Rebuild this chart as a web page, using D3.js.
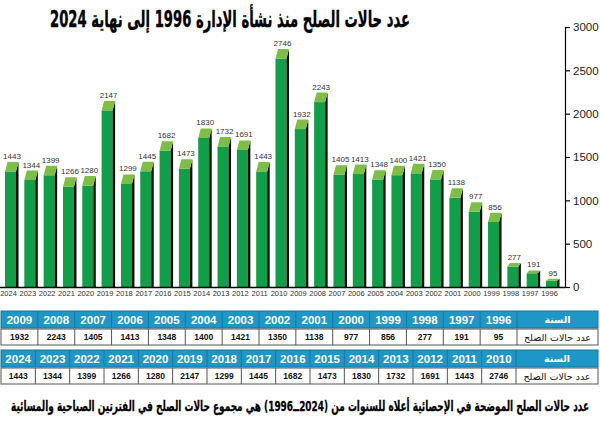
<!DOCTYPE html>
<html><head><meta charset="utf-8">
<script src="https://cdn.jsdelivr.net/npm/d3@7"></script>
<style>body{margin:0;background:#fff}svg{display:block}</style>
</head><body>
<script>
const years = [2024,2023,2022,2021,2020,2019,2018,2017,2016,2015,2014,2013,2012,2011,2010,2009,2008,2007,2006,2005,2004,2003,2002,2001,2000,1999,1998,1997,1996];
const values = [1443,1344,1399,1266,1280,2147,1299,1445,1682,1473,1830,1732,1691,1443,2746,1932,2243,1405,1413,1348,1400,1421,1350,1138,977,856,277,191,95];
const yTicks = [0,500,1000,1500,2000,2500,3000];
const table1Years = [2009,2008,2007,2006,2005,2004,2003,2002,2001,2000,1999,1998,1997,1996];
const table2Years = [2024,2023,2022,2021,2020,2019,2018,2017,2016,2015,2014,2013,2012,2011,2010];
const rowLabels = ["السنة","عدد حالات الصلح"];
const titleText = "عدد حالات الصلح منذ نشأة الإدارة 1996 إلى نهاية 2024";
const noteText = "عدد حالات الصلح الموضحة في الإحصائية أعلاه للسنوات من (2024ــ1996) هي مجموع حالات الصلح في الفترتين الصباحية والمسائية";

const valueByYear = new Map(years.map((y,i)=>[y, values[i]]));
const W = 600, H = 424;
const svg = d3.select("body").append("svg").attr("width",W).attr("height",H);
const arabicFont = "'DejaVu Sans', 'Noto Sans', sans-serif";
const latinFont = "'Liberation Sans', Arial, sans-serif";

// title
svg.append("text")
  .attr("x", 230).attr("y", 27)
  .attr("direction","rtl").attr("text-anchor","middle")
  .attr("font-family", arabicFont).attr("font-weight","bold")
  .attr("font-size", 23).attr("fill","#000")
  .attr("stroke","#000").attr("stroke-width",0.4)
  .attr("textLength", 360).attr("lengthAdjust","spacingAndGlyphs")
  .text(titleText);

// scales
const y = d3.scaleLinear().domain([0,3000]).range([287,27]);
const x = d3.scalePoint().domain(years).range([10.5,551.5]);
const axisX = 565;

// bars
const frontHalf = 5.5, dx = 2.5;
const g = svg.append("g");
years.forEach((yr,i)=>{
  const v = values[i];
  const cx = x(yr);
  const yb = y(v);
  const h = y(0) - yb;
  const dy = Math.min(9.5, h*0.11+1);
  const yf = yb + dy;
  const x0 = cx - frontHalf, x1 = cx + frontHalf;
  g.append("rect").attr("x",x0).attr("y",yf).attr("width",x1-x0).attr("height",Math.max(0,y(0)-yf)).attr("fill","#0f9f48");
  g.append("path").attr("d",`M${x1},${yf}L${x1+dx},${yb}L${x1+dx},${y(0)}L${x1},${y(0)}Z`).attr("fill","#0a0a0a");
  g.append("path").attr("d",`M${x0},${yf}L${x0+dx},${yb}L${x1+dx},${yb}L${x1},${yf}Z`).attr("fill","#7dbf45");
  g.append("text").attr("x",cx+1.5).attr("y",yb-3).attr("text-anchor","middle")
    .attr("font-family",latinFont).attr("font-size",8).attr("fill","#333").text(v);
});

// baseline
svg.append("line").attr("x1",0).attr("x2",axisX).attr("y1",y(0)+0.5).attr("y2",y(0)+0.5)
  .attr("stroke","#000").attr("stroke-width",1.5);

// x axis labels
const xAxis = d3.axisBottom(x).tickSize(0).tickPadding(0);
const gx = svg.append("g").attr("transform",`translate(-2.5,${y(0)+2})`).call(xAxis);
gx.select(".domain").remove();
gx.selectAll("text").attr("font-family",latinFont).attr("font-size",7.5).attr("fill","#333").attr("dy","0.9em");

// y axis
const yAxis = d3.axisRight(y).tickValues(yTicks).tickFormat(d3.format("d")).tickSize(5).tickSizeOuter(0).tickPadding(3);
const gy = svg.append("g").attr("transform",`translate(${axisX},0)`).call(yAxis);
gy.select(".domain").attr("stroke","#000").attr("stroke-width",1.2);
gy.selectAll(".tick line").attr("stroke","#000").attr("stroke-width",1.2);
gy.selectAll("text").attr("font-family",latinFont).attr("font-size",11.5).attr("fill","#222");

// tables
const blue = "#1f97c6", blueLine = "#15779f";
function drawTable(yrs, top, right) {
  const cols = d3.scaleBand().domain(yrs).range([1, right]);
  const hh = 17, dh = 16;
  const tg = svg.append("g");
  tg.append("rect").attr("x",1).attr("y",top).attr("width",597).attr("height",hh).attr("fill",blue).attr("stroke",blueLine).attr("stroke-width",1);
  tg.append("rect").attr("x",1).attr("y",top+hh+1).attr("width",597).attr("height",dh).attr("fill","#fff").attr("stroke","#555").attr("stroke-width",1);
  yrs.forEach(yr=>{
    const xl = cols(yr), w = cols.bandwidth();
    tg.append("line").attr("x1",xl+w).attr("x2",xl+w).attr("y1",top).attr("y2",top+hh).attr("stroke",blueLine).attr("stroke-width",1);
    tg.append("line").attr("x1",xl+w).attr("x2",xl+w).attr("y1",top+hh+1).attr("y2",top+hh+1+dh).attr("stroke","#555").attr("stroke-width",1);
    tg.append("text").attr("x",xl+w/2).attr("y",top+hh/2+4).attr("text-anchor","middle")
      .attr("font-family",latinFont).attr("font-weight","bold").attr("font-size",11.5).attr("fill","#fff").text(yr);
    tg.append("text").attr("x",xl+w/2).attr("y",top+hh+1+dh/2+3.2).attr("text-anchor","middle")
      .attr("font-family",latinFont).attr("font-weight","bold").attr("font-size",8.5).attr("fill","#111").text(valueByYear.get(yr));
  });
  const lc = (right+598)/2;
  tg.append("text").attr("x",lc).attr("y",top+hh/2+3.5).attr("text-anchor","middle").attr("direction","rtl")
    .attr("font-family",arabicFont).attr("font-weight","bold").attr("font-size",9.5).attr("fill","#fff").text(rowLabels[0]);
  tg.append("text").attr("x",lc).attr("y",top+hh+1+dh/2+3.5).attr("text-anchor","middle").attr("direction","rtl")
    .attr("font-family",arabicFont).attr("font-size",9.5).attr("fill","#111").text(rowLabels[1]);
}
drawTable(table1Years, 311, 517);
drawTable(table2Years, 350, 516);

// footnote
svg.append("text")
  .attr("x", 300).attr("y", 411)
  .attr("direction","rtl").attr("text-anchor","middle")
  .attr("font-family", arabicFont).attr("font-weight","bold")
  .attr("font-size", 14.5).attr("fill","#000")
  .attr("stroke","#000").attr("stroke-width",0.3)
  .attr("textLength", 578).attr("lengthAdjust","spacingAndGlyphs")
  .text(noteText);
</script>
</body></html>
